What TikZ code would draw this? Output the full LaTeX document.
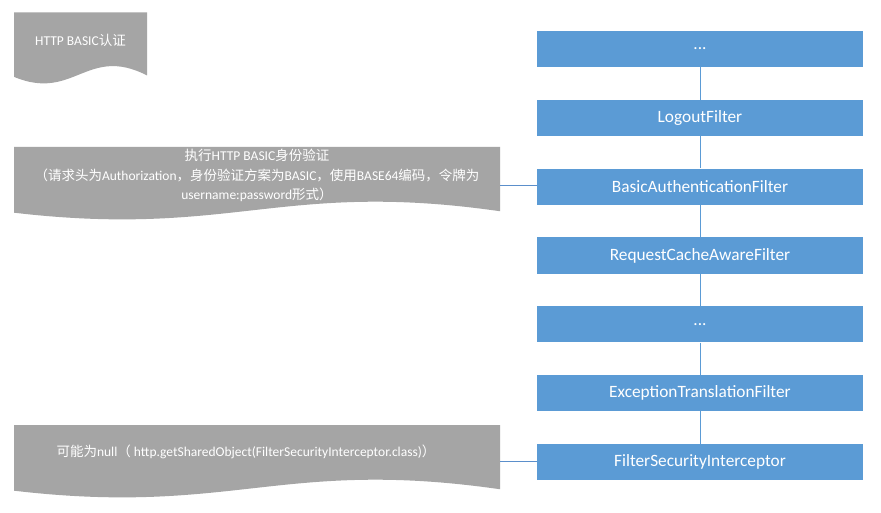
\documentclass[tikz,border=0pt]{standalone}
\usepackage{fontspec}
\setmainfont{Carlito}
\newfontfamily\cjk{Noto Sans CJK SC}
\definecolor{fblue}{HTML}{5B9BD5}
\definecolor{dgray}{HTML}{A5A5A5}
\definecolor{lblue}{HTML}{5B8FCB}
\begin{document}
\begin{tikzpicture}[x=1pt,y=-1pt,
  filterbox/.style={rectangle,fill=fblue,draw=none,minimum width=326pt,minimum height=36pt,
    inner sep=0pt,text=white,font=\fontsize{17.3}{20}\selectfont},
  doctext/.style={text=white,align=center,inner sep=0pt,font=\fontsize{13.5}{19.5}\selectfont},
  conn/.style={draw=fblue,line width=1pt},
  sideconn/.style={draw=lblue,line width=1pt}]
\useasboundingbox[fill=white] (0,0) rectangle (881,513);
% document shapes
\def\docshape#1#2#3#4{% x0, top, W, H
  \fill[dgray] (#1,#2) -- ({#1+#3},#2) -- ({#1+#3},{#2+0.88*#4})
    .. controls ({#1+0.55*#3},{#2+0.45*#4}) and ({#1+0.45*#3},{#2+1.25*#4}) .. (#1,{#2+0.9*#4}) -- cycle;}
\docshape{14}{12.5}{133}{71.5}
\docshape{14}{147}{486}{73}
\docshape{14}{425}{486}{73}
\node[doctext] (d1) at (80.5,40) {HTTP BASIC{\cjk 认证}};
\node[doctext] (d2) at (257,175.5) {{\cjk 执行}HTTP BASIC{\cjk 身份验证}\\
  {\cjk （请求头为}Authorization{\cjk ，身份验证方案为}BASIC{\cjk ，使用}BASE64{\cjk 编码，令牌为}\\
  username:password{\cjk 形式）}};
\node[doctext] (d3) at (246,451.5) {{\cjk 可能为}null{\cjk （} http.getSharedObject(FilterSecurityInterceptor.class){\cjk ）}};
\coordinate (d2r) at (500,186);
\coordinate (d3r) at (500,461);
% filter chain
\node[filterbox] (f1) at (700,49) {...};
\node[filterbox] (f2) at (700,117.8) {LogoutFilter};
\node[filterbox] (f3) at (700,186.7) {BasicAuthenticationFilter};
\node[filterbox] (f4) at (700,255.5) {RequestCacheAwareFilter};
\node[filterbox] (f5) at (700,324.3) {...};
\node[filterbox] (f6) at (700,393.2) {ExceptionTranslationFilter};
\node[filterbox] (f7) at (700,462) {FilterSecurityInterceptor};
\foreach \a/\b in {f1/f2,f2/f3,f3/f4,f4/f5,f5/f6,f6/f7}
  \draw[conn] (\a.south) -- (\b.north);
\draw[sideconn] (d2r) -- (d2r -| f3.west);
\draw[sideconn] (d3r) -- (d3r -| f7.west);
\end{tikzpicture}
\end{document}
